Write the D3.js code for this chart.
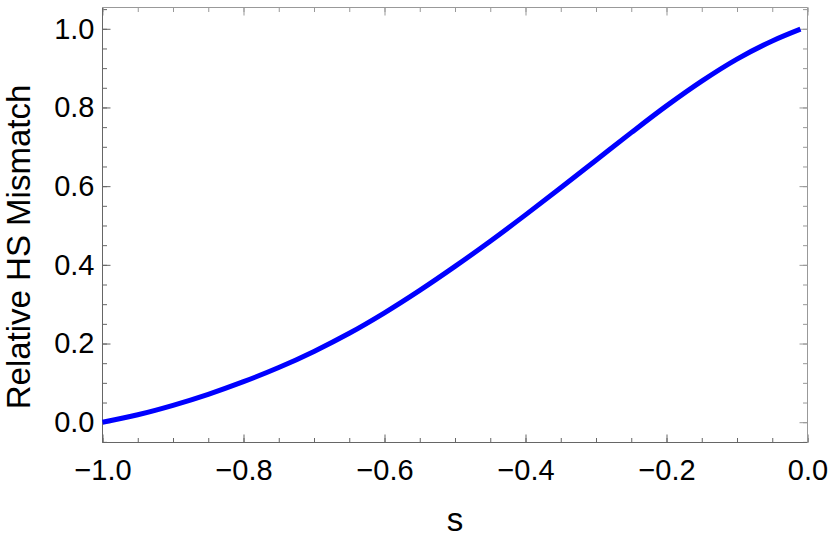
<!DOCTYPE html>
<html>
<head>
<meta charset="utf-8">
<script src="https://cdnjs.cloudflare.com/ajax/libs/d3/7.8.5/d3.min.js"></script>
<style>
  body { margin: 0; background: #fff; }
  svg { display: block; font-family: "Liberation Sans", Arial, sans-serif; }
</style>
</head>
<body>
<div id="chart"></div>
<script>
// curve samples
var sValues = [-1.0, -0.95, -0.9, -0.85, -0.8, -0.75, -0.7, -0.65, -0.6, -0.55, -0.5,
               -0.45, -0.4, -0.35, -0.3, -0.25, -0.2, -0.15, -0.1, -0.05, -0.01];
var mismatch = [0.000, 0.019, 0.043, 0.071, 0.103, 0.139, 0.180, 0.226, 0.278, 0.335, 0.396,
                0.460, 0.527, 0.596, 0.666, 0.736, 0.804, 0.867, 0.923, 0.969, 0.999];

var xMajor = [-1.0, -0.8, -0.6, -0.4, -0.2, 0.0];
var yMajor = [0.0, 0.2, 0.4, 0.6, 0.8, 1.0];
var xMinor = d3.range(-20, 1).map(function(i) { return i * 0.05; });
var yMinor = d3.range(-1, 22).map(function(i) { return i * 0.05; });

var width = 830,
    height = 538;
var frameL = 102.5, frameR = 807.5, frameT = 7.5, frameB = 442.5;

var svg = d3.select("#chart")
  .append("svg")
    .attr("width", width)
    .attr("height", height);

var x = d3.scaleLinear().domain([-1, 0]).range([frameL, frameR]);
var y = d3.scaleLinear().domain([-0.0516, 1.0541]).range([frameB, frameT]);

var fmt = d3.format(".1f");

function styleAxis(g, color) {
  g.select(".domain").remove();
  g.selectAll(".tick line").attr("stroke", color).attr("stroke-width", 1);
  g.selectAll(".tick text")
    .attr("fill", "#000")
    .style("font-size", "29px")
    .style("font-family", "'Liberation Sans', Arial, sans-serif");
}

// minor ticks (all four sides)
svg.append("g").attr("transform", "translate(0," + frameB + ")")
  .call(d3.axisBottom(x).tickValues(xMinor).tickSize(-4.5).tickFormat(""))
  .call(styleAxis, "#666");
svg.append("g").attr("transform", "translate(0," + frameT + ")")
  .call(d3.axisTop(x).tickValues(xMinor).tickSize(-4.5).tickFormat(""))
  .call(styleAxis, "#999");
svg.append("g").attr("transform", "translate(" + frameL + ",0)")
  .call(d3.axisLeft(y).tickValues(yMinor).tickSize(-4.5).tickFormat(""))
  .call(styleAxis, "#666");
svg.append("g").attr("transform", "translate(" + frameR + ",0)")
  .call(d3.axisRight(y).tickValues(yMinor).tickSize(-4.5).tickFormat(""))
  .call(styleAxis, "#999");

// major ticks
var xAxis = svg.append("g").attr("transform", "translate(0," + frameB + ")")
  .call(d3.axisBottom(x).tickValues(xMajor).tickSize(-8).tickPadding(0).tickFormat(fmt))
  .call(styleAxis, "#666");
xAxis.selectAll(".tick text").attr("y", 37.5).attr("dy", null);

svg.append("g").attr("transform", "translate(0," + frameT + ")")
  .call(d3.axisTop(x).tickValues(xMajor).tickSize(-8).tickFormat(""))
  .call(styleAxis, "#999");
svg.append("g").attr("transform", "translate(" + frameL + ",0)")
  .call(d3.axisLeft(y).tickValues(yMajor).tickSize(-8).tickPadding(0).tickFormat(fmt))
  .call(styleAxis, "#666")
  .selectAll(".tick text").attr("x", -8);
svg.append("g").attr("transform", "translate(" + frameR + ",0)")
  .call(d3.axisRight(y).tickValues(yMajor).tickSize(-8).tickFormat(""))
  .call(styleAxis, "#999");

// frame
svg.append("line").attr("x1", frameL).attr("x2", frameR).attr("y1", frameB).attr("y2", frameB).attr("stroke", "#666");
svg.append("line").attr("x1", frameL).attr("x2", frameL).attr("y1", frameT).attr("y2", frameB).attr("stroke", "#666");
svg.append("line").attr("x1", frameL).attr("x2", frameR).attr("y1", frameT).attr("y2", frameT).attr("stroke", "#999");
svg.append("line").attr("x1", frameR).attr("x2", frameR).attr("y1", frameT).attr("y2", frameB).attr("stroke", "#999");

// curve
var points = sValues.map(function(s, i) { return [s, mismatch[i]]; });
var line = d3.line()
  .x(function(d) { return x(d[0]); })
  .y(function(d) { return y(d[1]); })
  .curve(d3.curveMonotoneX);

svg.append("path")
  .datum(points)
  .attr("d", line)
  .attr("fill", "none")
  .attr("stroke", "#0000ff")
  .attr("stroke-width", 5);

// axis titles
svg.append("text")
  .attr("x", (frameL + frameR) / 2)
  .attr("y", 531)
  .attr("text-anchor", "middle")
  .style("font-size", "33px")
  .text("s");

svg.append("text")
  .attr("transform", "translate(30,247) rotate(-90)")
  .attr("text-anchor", "middle")
  .style("font-size", "33px")
  .text("Relative HS Mismatch");
</script>
</body>
</html>
